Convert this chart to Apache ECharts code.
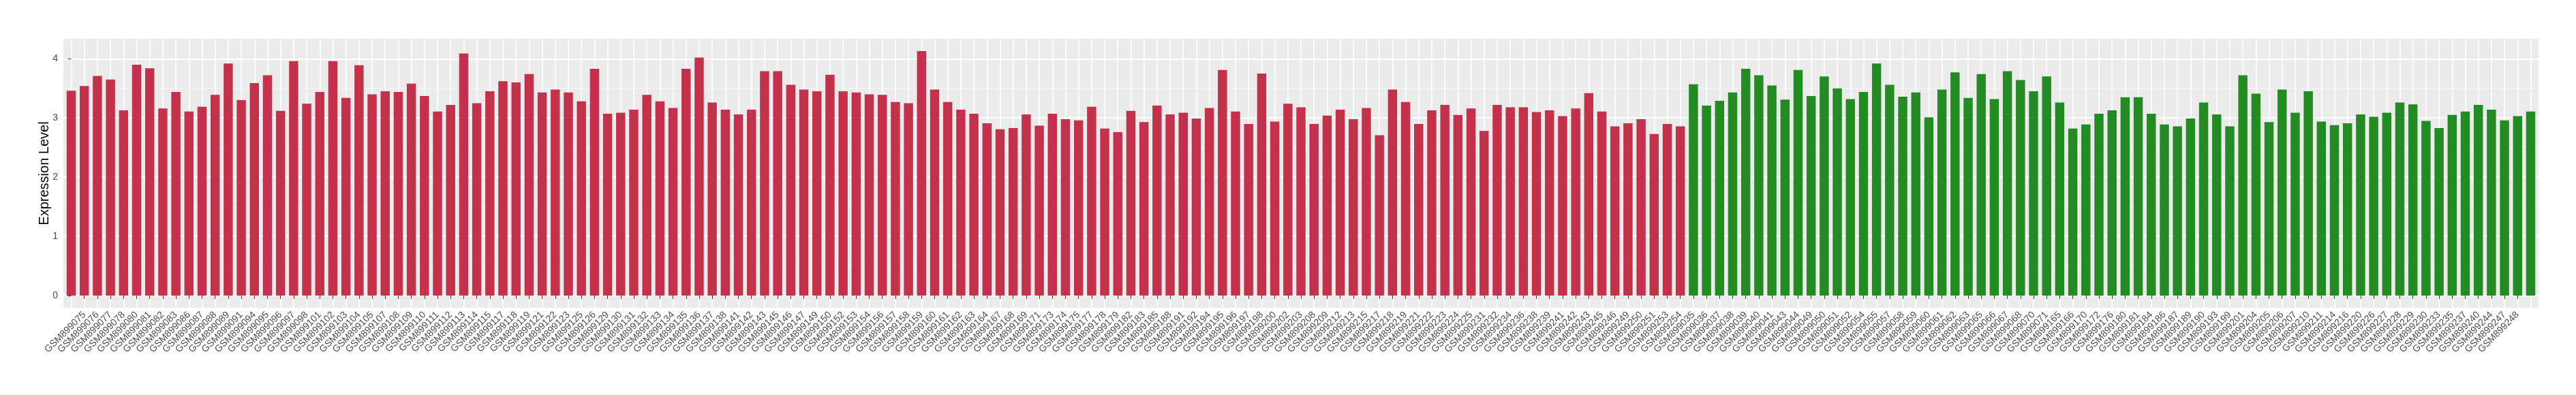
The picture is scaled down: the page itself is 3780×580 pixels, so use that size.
<!DOCTYPE html>
<html>
<head>
<meta charset="utf-8">
<script src="https://cdn.jsdelivr.net/npm/echarts@6/dist/echarts.min.js"></script>
<style>
  html, body { margin: 0; padding: 0; background: #ffffff; }
  #chart { width: 3780px; height: 580px; }
</style>
</head>
<body>
<div id="chart"></div>
<script>
// first group (red)
var redSamples = [
  'GSM899074', 'GSM899075', 'GSM899076', 'GSM899077', 'GSM899078', 'GSM899080', 'GSM899081', 'GSM899082',
  'GSM899083', 'GSM899086', 'GSM899087', 'GSM899088', 'GSM899089', 'GSM899091', 'GSM899094', 'GSM899095',
  'GSM899096', 'GSM899097', 'GSM899098', 'GSM899101', 'GSM899102', 'GSM899103', 'GSM899104', 'GSM899105',
  'GSM899107', 'GSM899108', 'GSM899109', 'GSM899110', 'GSM899111', 'GSM899112', 'GSM899113', 'GSM899114',
  'GSM899115', 'GSM899117', 'GSM899118', 'GSM899119', 'GSM899121', 'GSM899122', 'GSM899123', 'GSM899125',
  'GSM899126', 'GSM899129', 'GSM899130', 'GSM899131', 'GSM899132', 'GSM899133', 'GSM899134', 'GSM899135',
  'GSM899136', 'GSM899137', 'GSM899138', 'GSM899141', 'GSM899142', 'GSM899143', 'GSM899145', 'GSM899146',
  'GSM899147', 'GSM899149', 'GSM899150', 'GSM899152', 'GSM899153', 'GSM899154', 'GSM899156', 'GSM899157',
  'GSM899158', 'GSM899159', 'GSM899160', 'GSM899161', 'GSM899162', 'GSM899163', 'GSM899164', 'GSM899167',
  'GSM899168', 'GSM899169', 'GSM899171', 'GSM899173', 'GSM899174', 'GSM899175', 'GSM899177', 'GSM899178',
  'GSM899179', 'GSM899182', 'GSM899183', 'GSM899185', 'GSM899188', 'GSM899191', 'GSM899192', 'GSM899194',
  'GSM899195', 'GSM899196', 'GSM899197', 'GSM899198', 'GSM899200', 'GSM899202', 'GSM899203', 'GSM899208',
  'GSM899209', 'GSM899212', 'GSM899213', 'GSM899215', 'GSM899217', 'GSM899218', 'GSM899219', 'GSM899221',
  'GSM899222', 'GSM899223', 'GSM899224', 'GSM899225', 'GSM899231', 'GSM899232', 'GSM899234', 'GSM899236',
  'GSM899238', 'GSM899239', 'GSM899241', 'GSM899242', 'GSM899243', 'GSM899245', 'GSM899246', 'GSM899249',
  'GSM899250', 'GSM899251', 'GSM899253', 'GSM899254'
]
var redValues = [
  3.46, 3.54, 3.71, 3.65, 3.13, 3.90, 3.84, 3.16, 3.44, 3.11, 3.19, 3.39, 3.92, 3.30, 3.59, 3.72,
  3.12, 3.96, 3.24, 3.44, 3.96, 3.34, 3.89, 3.40, 3.45, 3.44, 3.58, 3.37, 3.11, 3.22, 4.09, 3.25, 3.45,
  3.62, 3.60, 3.74, 3.43, 3.48, 3.43, 3.28, 3.83, 3.07, 3.09, 3.14, 3.39, 3.28, 3.17, 3.83, 4.02, 3.26,
  3.14, 3.06, 3.14, 3.79, 3.79, 3.56, 3.48, 3.45, 3.73, 3.45, 3.43, 3.40, 3.39, 3.27, 3.25, 4.13, 3.48,
  3.27, 3.14, 3.07, 2.91, 2.81, 2.83, 3.06, 2.87, 3.07, 2.98, 2.96, 3.19, 2.82, 2.76, 3.12, 2.93, 3.21, 3.06,
  3.09, 2.99, 3.17, 3.81, 3.11, 2.90, 3.75, 2.94, 3.24, 3.18, 2.90, 3.04, 3.14, 2.98, 3.17, 2.71, 3.48,
  3.27, 2.90, 3.13, 3.22, 3.05, 3.16, 2.78, 3.22, 3.18, 3.18, 3.10, 3.13, 3.03, 3.16, 3.42, 3.11, 2.86,
  2.91, 2.98, 2.73, 2.90, 2.86
]
// second group (green)
var greenSamples = [
  'GSM899035', 'GSM899036', 'GSM899037', 'GSM899038', 'GSM899039', 'GSM899040', 'GSM899041', 'GSM899043',
  'GSM899044', 'GSM899049', 'GSM899050', 'GSM899051', 'GSM899052', 'GSM899054', 'GSM899055', 'GSM899057',
  'GSM899058', 'GSM899059', 'GSM899060', 'GSM899061', 'GSM899062', 'GSM899063', 'GSM899065', 'GSM899066',
  'GSM899067', 'GSM899068', 'GSM899070', 'GSM899071', 'GSM899165', 'GSM899166', 'GSM899170', 'GSM899172',
  'GSM899176', 'GSM899180', 'GSM899181', 'GSM899184', 'GSM899186', 'GSM899187', 'GSM899189', 'GSM899190',
  'GSM899193', 'GSM899199', 'GSM899201', 'GSM899204', 'GSM899205', 'GSM899206', 'GSM899207', 'GSM899210',
  'GSM899211', 'GSM899214', 'GSM899216', 'GSM899220', 'GSM899226', 'GSM899227', 'GSM899228', 'GSM899229',
  'GSM899230', 'GSM899233', 'GSM899235', 'GSM899237', 'GSM899240', 'GSM899244', 'GSM899247', 'GSM899248',
  'GSM899252'
]
var greenValues = [
  3.57, 3.21, 3.29, 3.43, 3.83, 3.72, 3.55, 3.31, 3.81, 3.37, 3.70, 3.50,
  3.32, 3.44, 3.92, 3.56, 3.36, 3.43, 3.01, 3.48, 3.77, 3.34, 3.74, 3.32, 3.79, 3.64, 3.45, 3.70,
  3.26, 2.82, 2.89, 3.07, 3.13, 3.35, 3.35, 3.07, 2.89, 2.86, 2.99, 3.26, 3.06, 2.86, 3.72, 3.41,
  2.93, 3.48, 3.09, 3.45, 2.94, 2.88, 2.91, 3.06, 3.02, 3.09, 3.26, 3.23, 2.95, 2.83, 3.05, 3.11,
  3.22, 3.14, 2.96, 3.03, 3.11
]
var yMajorTicks = [0, 1, 2, 3, 4]
var yMinorTicks = [0.5, 1.5, 2.5, 3.5]

var samples = redSamples.concat(greenSamples)
var positions = samples.map(function (s, i) { return i })
var barData = []
redValues.forEach(function (v, i) {
  barData.push({ value: [i, v], itemStyle: { color: '#C3314A' } })
})
greenValues.forEach(function (v, i) {
  barData.push({ value: [redValues.length + i, v], itemStyle: { color: '#228B22' } })
})

var chartDom = document.getElementById('chart')
var myChart = echarts.init(chartDom)
var option = {
  animation: false,
  grid: {
    left: 93,
    right: 55,
    top: 57,
    bottom: 128,
    show: true,
    backgroundColor: '#EBEBEB',
    borderWidth: 0
  },
  xAxis: {
    type: 'value',
    min: -0.6,
    max: samples.length - 0.4,
    axisLine: { show: false },
    axisTick: {
      show: true,
      customValues: positions,
      length: 5,
      lineStyle: { color: '#333333', width: 1 }
    },
    axisLabel: {
      customValues: positions,
      rotate: 45,
      margin: 8,
      color: '#4D4D4D',
      fontSize: 14,
      fontFamily: 'Liberation Sans',
      formatter: function (v) {
        return samples[Math.round(v)]
      }
    },
    splitLine: { show: true, lineStyle: { color: '#FFFFFF', width: 1.5 } }
  },
  yAxis: [
    {
      type: 'value',
      min: -0.2065,
      max: 4.3365,
      name: 'Expression Level',
      nameLocation: 'middle',
      nameGap: 18,
      nameMoveOverlap: false,
      nameTextStyle: { color: '#000000', fontSize: 20, fontFamily: 'Liberation Sans' },
      axisLine: { show: false },
      axisTick: {
        show: true,
        customValues: yMajorTicks,
        length: 5,
        lineStyle: { color: '#333333', width: 1 }
      },
      axisLabel: {
        customValues: yMajorTicks,
        margin: 8,
        color: '#4D4D4D',
        fontSize: 14,
        fontFamily: 'Liberation Sans'
      },
      splitLine: { show: true, lineStyle: { color: '#FFFFFF', width: 2 } }
    },
    {
      // minor grid lines only
      type: 'value',
      min: -0.2065,
      max: 4.3365,
      position: 'left',
      axisLine: { show: false },
      axisTick: { show: false, customValues: yMinorTicks },
      axisLabel: { show: false, customValues: yMinorTicks },
      splitLine: { show: true, lineStyle: { color: '#F7F7F7', width: 1 } }
    }
  ],
  series: [
    {
      type: 'bar',
      xAxisIndex: 0,
      yAxisIndex: 0,
      barWidth: '70%',
      data: barData
    }
  ]
}
option && myChart.setOption(option)
</script>
</body>
</html>
